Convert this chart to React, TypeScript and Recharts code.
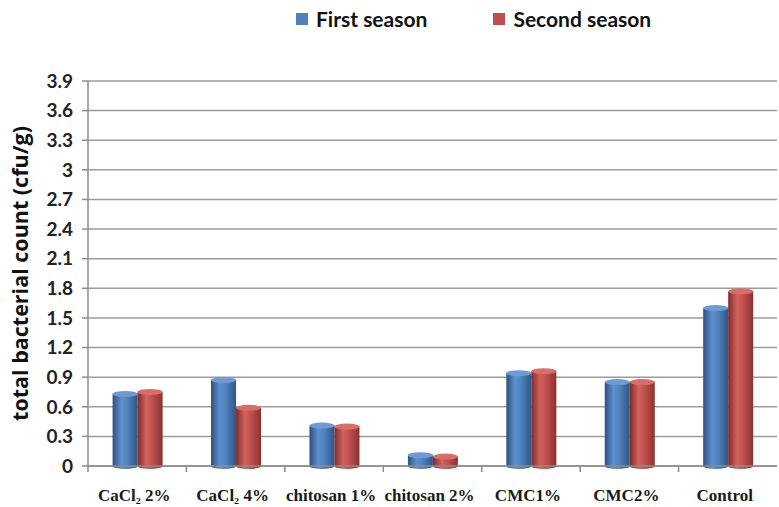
import { BarChart, Bar, XAxis, YAxis, CartesianGrid } from "recharts";

const treatments = ["CaCl₂ 2%", "CaCl₂ 4%", "chitosan 1%", "chitosan 2%", "CMC1%", "CMC2%", "Control"];
const firstSeason = [0.73, 0.87, 0.41, 0.11, 0.94, 0.85, 1.6];
const secondSeason = [0.75, 0.59, 0.4, 0.095, 0.96, 0.85, 1.77];
const yTicks = [0, 0.3, 0.6, 0.9, 1.2, 1.5, 1.8, 2.1, 2.4, 2.7, 3, 3.3, 3.6, 3.9];

const seriesInfo = [
  { key: "first", name: "First season", color: "#4F81BD", grad: "blueCyl", cap: "#6f9bd2" },
  { key: "second", name: "Second season", color: "#C0504D", grad: "redCyl", cap: "#d66e6a" },
];

const data = treatments.map((t, i) => ({
  name: t,
  first: firstSeason[i],
  second: secondSeason[i],
}));

// cylinder-ish bar: body + elliptical caps
function Cylinder(props: any) {
  const { x, y, width, height, fill, capColor } = props;
  if (!height || height <= 0) return null;
  const rx = width / 2;
  const ry = Math.min(3, height / 2);
  return (
    <g>
      <rect x={x} y={y} width={width} height={height} fill={fill} />
      <ellipse cx={x + rx} cy={y + height} rx={rx} ry={ry} fill={fill} />
      <ellipse cx={x + rx} cy={y} rx={rx} ry={ry} fill={capColor} />
    </g>
  );
}

function XTick(props: any) {
  const { x, y, payload } = props;
  const half = payload?.offset ?? 49;
  return (
    <g>
      <line x1={x - half} y1={y - 8} x2={x - half} y2={y - 2} stroke="#8c8c8c" strokeWidth={1.5} />
      <text
        x={x - 3}
        y={y + 27}
        textAnchor="middle"
        fontFamily="'Liberation Serif', 'Times New Roman', serif"
        fontWeight="bold"
        fontSize={17}
        fill="#1a1a1a"
      >
        {payload.value}
      </text>
    </g>
  );
}

export default function App() {
  return (
    <div style={{ position: "absolute", left: 0, top: 0, width: 779, height: 507, background: "#fff" }}>
      {/* Legend */}
      <div
        style={{
          position: "absolute",
          top: 6,
          left: 296,
          display: "flex",
          alignItems: "center",
          fontFamily: "Lato, 'Open Sans', sans-serif",
          fontWeight: 700,
          fontSize: 21,
          color: "#111",
        }}
      >
        {seriesInfo.map((s, i) => (
          <div key={s.key} style={{ display: "flex", alignItems: "center", marginRight: i === 0 ? 66 : 0 }}>
            <span style={{ display: "inline-block", width: 12, height: 12, background: s.color, marginRight: 8 }} />
            <span>{s.name}</span>
          </div>
        ))}
      </div>

      <BarChart
        width={779}
        height={507}
        data={data}
        margin={{ top: 81, right: 2, bottom: 0, left: 0 }}
        barCategoryGap="25%"
        barGap={0}
      >
        <defs>
          <linearGradient id="blueCyl" x1="0" y1="0" x2="1" y2="0">
            <stop offset="0%" stopColor="#2c5080" />
            <stop offset="35%" stopColor="#5e90cf" />
            <stop offset="60%" stopColor="#4f81bd" />
            <stop offset="100%" stopColor="#2f5585" />
          </linearGradient>
          <linearGradient id="redCyl" x1="0" y1="0" x2="1" y2="0">
            <stop offset="0%" stopColor="#7e2b29" />
            <stop offset="35%" stopColor="#d2625e" />
            <stop offset="60%" stopColor="#c0504d" />
            <stop offset="100%" stopColor="#8a3230" />
          </linearGradient>
        </defs>
        <CartesianGrid vertical={false} stroke="#9c9c9c" strokeWidth={1.5} />
        <XAxis
          dataKey="name"
          height={41}
          stroke="#8c8c8c"
          strokeWidth={1.5}
          tickLine={false}
          interval={0}
          tick={<XTick />}
        />
        <YAxis
          width={88}
          domain={[0, 3.9]}
          ticks={yTicks}
          interval={0}
          stroke="#8c8c8c"
          strokeWidth={1.5}
          tickSize={6}
          tickMargin={9}
          tickFormatter={(v: number) => String(Math.round(v * 10) / 10)}
          tick={{ fontFamily: "Lato, 'Open Sans', sans-serif", fontWeight: 700, fontSize: 19, fill: "#222" }}
          label={{
            value: "total bacterial count (cfu/g)",
            angle: -90,
            position: "insideLeft",
            offset: 20,
            style: {
              textAnchor: "middle",
              fontFamily: "'Open Sans', sans-serif",
              fontWeight: 700,
              fontSize: 21.5,
              fill: "#111",
            },
          }}
        />
        {seriesInfo.map((s) => (
          <Bar
            key={s.key}
            dataKey={s.key}
            name={s.name}
            fill={`url(#${s.grad})`}
            isAnimationActive={false}
            shape={(p: any) => <Cylinder {...p} fill={`url(#${s.grad})`} capColor={s.cap} />}
          />
        ))}
      </BarChart>
    </div>
  );
}
